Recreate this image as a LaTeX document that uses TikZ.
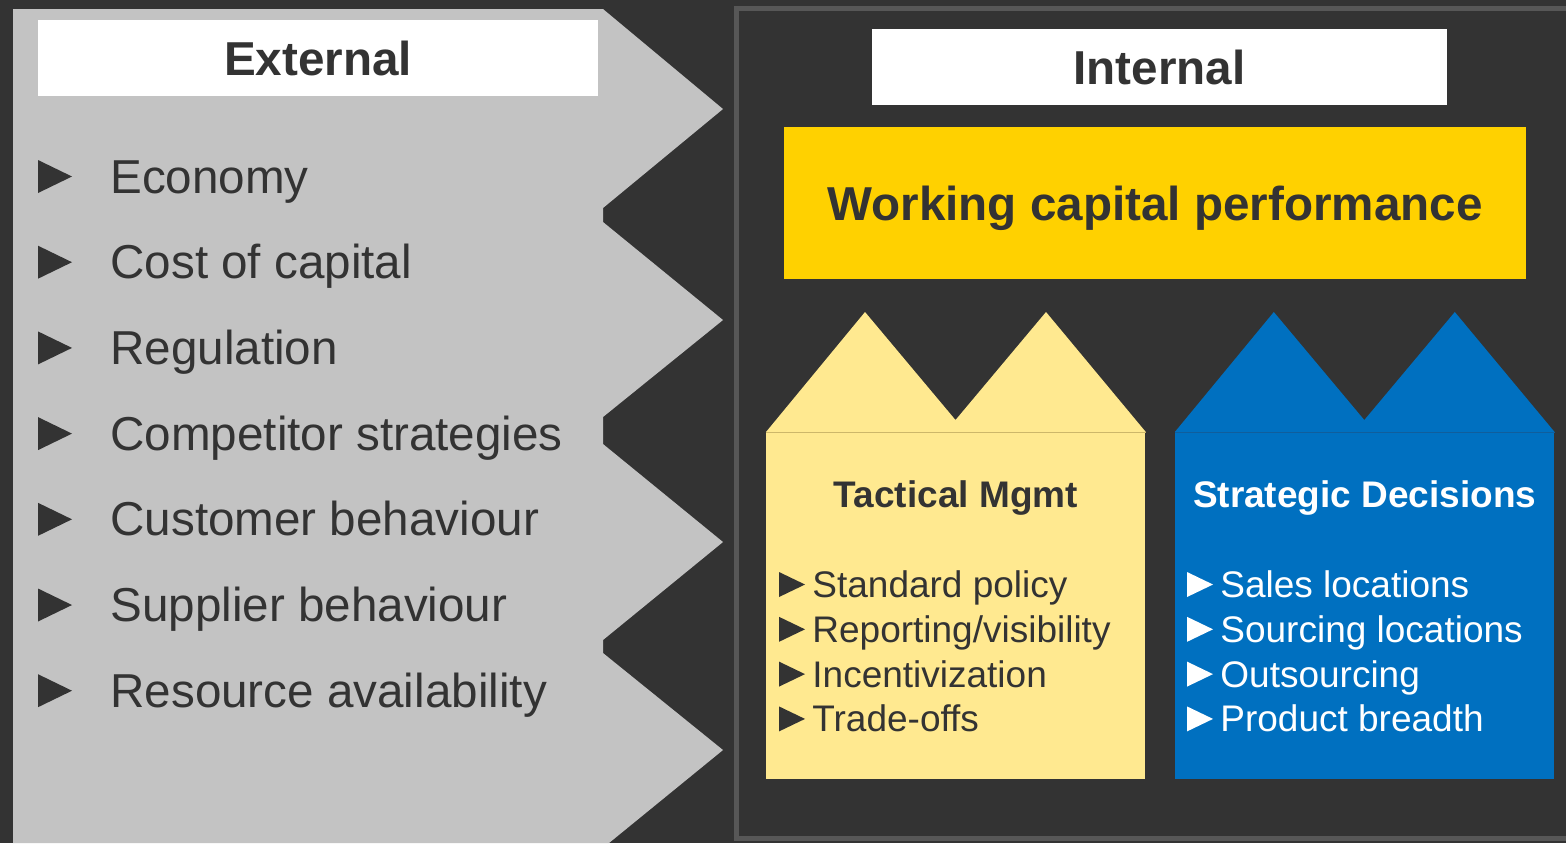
\documentclass[tikz,border=0pt]{standalone}
\usepackage{fontspec}
\setmainfont{Liberation Sans}
\usepackage{xcolor}
\usetikzlibrary{positioning,calc}
\definecolor{canvas}{HTML}{333333}
\definecolor{ink}{HTML}{333333}
\definecolor{extgray}{HTML}{C3C3C3}
\definecolor{framegray}{HTML}{575757}
\definecolor{gold}{HTML}{FFD100}
\definecolor{paleyellow}{HTML}{FFE990}
\definecolor{paleseam}{HTML}{CDB76A}
\definecolor{corpblue}{HTML}{0070C0}
\definecolor{blueseam}{HTML}{105E9C}

\begin{document}
\begin{tikzpicture}[x=0.5pt,y=-0.5pt,
  headbox/.style={fill=white,text=ink,font=\bfseries\fontsize{23.8pt}{28pt}\selectfont,
    minimum height=38pt,inner sep=0pt,text depth=0pt},
  bigitem/.style={anchor=base west,inner sep=0pt,text=ink,font=\fontsize{23.8pt}{28pt}\selectfont},
  smallitem/.style={anchor=base west,inner sep=0pt,font=\fontsize{18.5pt}{22pt}\selectfont},
  house/.style={anchor=north west,inner sep=0pt,minimum width=189.5pt,minimum height=173.5pt},
  housetitle/.style={anchor=base,inner sep=0pt,font=\bfseries\fontsize{18.5pt}{22pt}\selectfont}]
\useasboundingbox (0,0) rectangle (1566,843);
\clip (0,0) rectangle (1566,843);
\fill[canvas] (0,0) rectangle (1566,843);

% external side: grey chevron column
\fill[extgray] (13,9) -- (603,9) -- (723,109) -- (603,208) -- (603,222) -- (723,320)
  -- (603,417) -- (603,444) -- (723,542) -- (603,640) -- (603,653) -- (723,750)
  -- (609,843) -- (13,843) -- cycle;
\node[headbox,minimum width=280pt] (extlabel) at (318,58) {External};
\foreach \txt [count=\i] in {Economy,Cost of capital,Regulation,Competitor strategies,
    Customer behaviour,Supplier behaviour,Resource availability} {
  \pgfmathsetmacro\yc{176.5+85.7*(\i-1)}
  \fill[ink] (38,\yc-16.5) -- (72,\yc) -- (38,\yc+16.5) -- cycle;
  \node[bigitem] (ext\i) at (110,\yc+16.5) {\txt};
}

% internal side
\draw[framegray,line width=2.5pt] (736,8) rectangle (1600,838);
\node[headbox,minimum width=287.5pt] (intlabel) at (1159.5,67) {Internal};
\node[headbox,fill=gold,minimum width=371pt,minimum height=76pt,
  below=10.5pt of intlabel,xshift=-2.25pt] (perf) {Working capital performance};

\node[house,fill=paleyellow] (tac) at (766,432) {};
\node[house,fill=corpblue,right=14.5pt of tac] (strat) {};
\foreach \h/\col/\seam in {tac/paleyellow/paleseam,strat/corpblue/blueseam} {
  \fill[\col] (\h.north west) -- ++(99,-120) -- ++(90.5,108) -- ++(90.5,-108)
    -- (\h.north east) -- cycle;
  \draw[\seam,line width=0.4pt] (\h.north west) -- (\h.north east);
}
\node[housetitle,text=ink] (tactitle) at ($(tac.north)+(0,75)$) {Tactical Mgmt};
\node[housetitle,text=white] (strattitle) at ($(strat.north)+(0,75)$) {Strategic Decisions};

\foreach \txt [count=\i] in {Standard policy,Reporting/visibility,Incentivization,Trade-offs} {
  \pgfmathsetmacro\yc{584.5+44.8*(\i-1)}
  \fill[ink] (779,\yc-12.5) -- (805,\yc) -- (779,\yc+12.5) -- cycle;
  \node[smallitem,text=ink] (tac\i) at (812,\yc+13) {\txt};
}
\foreach \txt [count=\i] in {Sales locations,Sourcing locations,Outsourcing,Product breadth} {
  \pgfmathsetmacro\yc{584.5+44.8*(\i-1)}
  \fill[white] (1187,\yc-12.5) -- (1213,\yc) -- (1187,\yc+12.5) -- cycle;
  \node[smallitem,text=white] (strat\i) at (1220,\yc+13) {\txt};
}
\end{tikzpicture}
\end{document}
